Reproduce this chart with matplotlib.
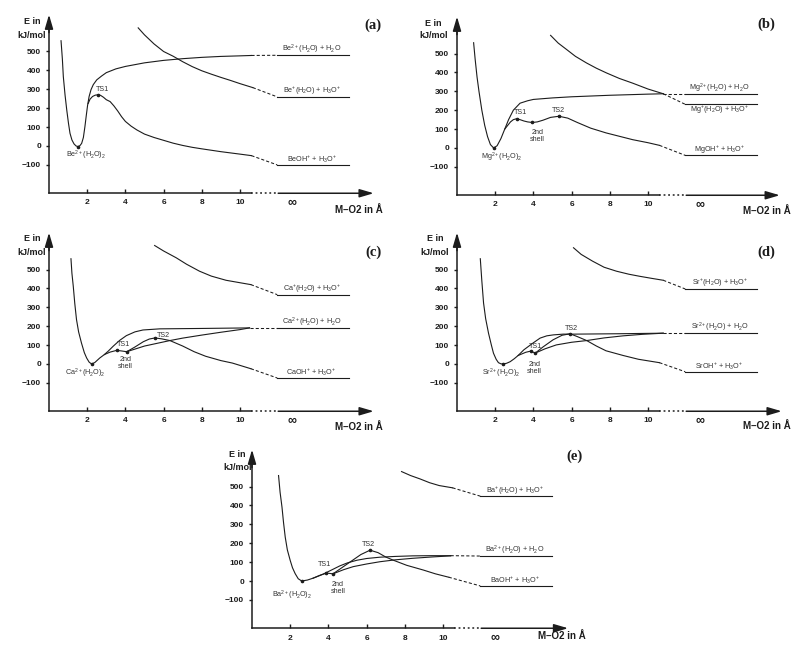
import matplotlib
matplotlib.use('Agg')  # no display
import matplotlib.pyplot as plt

plt.rcParams['font.family'] = ['Liberation Sans', 'DejaVu Sans']
plt.rcParams['mathtext.fontset'] = 'custom'
plt.rcParams['mathtext.rm'] = 'Liberation Sans'
plt.rcParams['mathtext.it'] = 'Liberation Sans:italic'
plt.rcParams['mathtext.bf'] = 'Liberation Sans:bold'

# --- values: x = M-O2 distance (A), y = E (kJ/mol) ---
x_ticks = [2, 4, 6, 8, 10]
y_ticks = [-100, 0, 100, 200, 300, 400, 500]

# (a) Be
be_bound_x = [0.63, 0.70, 0.75, 0.84, 0.93, 1.02, 1.10, 1.20, 1.31, 1.42, 1.52, 1.62, 1.71, 1.80, 1.88,
              1.95, 2.02, 2.10, 2.20, 2.32, 2.50, 2.75, 3.00, 3.50, 4.00, 5.00, 6.00, 7.00, 8.00, 9.00,
              10.00, 10.60]
be_bound_y = [557, 460, 367, 270, 190, 120, 67, 32, 11, 0, -3, 2, 14, 45, 102,
              160, 215, 262, 298, 325, 350, 370, 388, 408, 421, 440, 453, 462, 469, 474,
              477, 479]
be_pt_x = [2.05, 2.15, 2.28, 2.42, 2.56, 2.70, 2.85, 3.00, 3.20, 3.40, 3.60, 3.80, 4.00, 4.30, 4.60,
           5.00, 5.50, 6.00, 6.50, 7.00, 7.50, 8.00, 9.00, 10.00, 10.60]
be_pt_y = [225, 248, 262, 269, 271, 268, 258, 245, 235, 212, 185, 155, 130, 105, 85,
           63, 45, 30, 15, 3, -7, -15, -30, -43, -51]
be_ion_x = [4.67, 5.00, 5.50, 6.00, 6.50, 7.00, 7.50, 8.00, 8.50, 9.00, 9.50, 10.00, 10.67]
be_ion_y = [625, 588, 540, 500, 475, 446, 420, 398, 380, 363, 347, 330, 309]
be_levels = [480, 260, -100]
be_texts = ['Be$^{2+}$(H$_2$O) + H$_2$O', 'Be$^{+}$(H$_2$O) + H$_3$O$^{+}$', 'BeOH$^{+}$ + H$_3$O$^{+}$']
be_marks_x = [1.50, 2.56]
be_marks_y = [-3, 271]

# (b) Mg
mg_bound_x = [0.87, 0.95, 1.05, 1.15, 1.30, 1.45, 1.60, 1.75, 1.92, 2.10, 2.30, 2.50, 2.70, 2.95, 3.30,
              3.70, 4.00, 5.00, 6.00, 7.00, 8.00, 9.00, 10.00, 10.80]
mg_bound_y = [557, 470, 375, 300, 200, 120, 60, 18, 0, 12, 50, 100, 150, 200, 237,
              250, 257, 265, 271, 275, 279, 282, 285, 287]
mg_pt_x = [2.50, 2.80, 2.95, 3.12, 3.30, 3.50, 3.70, 3.94, 4.20, 4.50, 4.90, 5.34, 5.80, 6.30, 7.00,
           7.80, 8.50, 9.20, 10.00, 10.60]
mg_pt_y = [100, 138, 150, 155, 150, 143, 138, 135, 138, 147, 162, 168, 158, 135, 105,
           80, 62, 44, 28, 14]
mg_ion_x = [4.90, 5.30, 5.74, 6.20, 6.78, 7.30, 7.83, 8.50, 9.20, 10.00, 10.80]
mg_ion_y = [596, 555, 521, 485, 450, 422, 397, 368, 343, 312, 287]
mg_levels = [287, 231, -39]
mg_texts = ['Mg$^{2+}$(H$_2$O) + H$_2$O', 'Mg$^{+}$(H$_2$O) + H$_3$O$^{+}$', 'MgOH$^{+}$ + H$_3$O$^{+}$']
mg_marks_x = [1.92, 3.12, 3.94, 5.34]
mg_marks_y = [0, 155, 135, 168]

# (c) Ca
ca_bound_x = [1.15, 1.20, 1.27, 1.35, 1.44, 1.55, 1.70, 1.85, 1.97, 2.10, 2.23, 2.40, 2.66, 2.90, 3.10,
              3.36, 3.70, 4.05, 4.50, 4.92, 5.80, 7.90, 10.50]
ca_bound_y = [557, 480, 412, 320, 235, 170, 111, 60, 32, 10, 0, 8, 32, 50, 68,
              94, 125, 150, 170, 180, 186, 188, 191]
ca_ts1_x = [2.90, 3.20, 3.54, 3.80, 4.07]
ca_ts1_y = [50, 63, 72, 69, 65]
ca_shell_x = [4.07, 5.00, 6.33, 7.00, 8.00, 9.00, 10.00, 10.50]
ca_shell_y = [65, 95, 124, 137, 153, 168, 182, 191]
ca_pt_x = [4.07, 4.50, 4.94, 5.25, 5.55, 5.90, 6.33, 6.70, 7.00, 7.60, 8.20, 9.00, 9.60, 10.57]
ca_pt_y = [65, 90, 118, 132, 138, 133, 124, 108, 95, 65, 41, 18, 5, -25]
ca_ion_x = [5.53, 6.00, 6.66, 7.20, 7.88, 8.50, 9.27, 10.00, 10.57]
ca_ion_y = [627, 598, 562, 528, 491, 465, 443, 430, 420]
ca_levels = [191, 367, -74]
ca_texts = ['Ca$^{2+}$(H$_2$O) + H$_2$O', 'Ca$^{+}$(H$_2$O) + H$_3$O$^{+}$', 'CaOH$^{+}$ + H$_3$O$^{+}$']
ca_marks_x = [2.23, 3.54, 4.07, 5.55]
ca_marks_y = [0, 72, 65, 138]

# (d) Sr
sr_bound_x = [1.22, 1.30, 1.39, 1.50, 1.65, 1.80, 1.91, 2.05, 2.17, 2.30, 2.43, 2.60, 2.78, 3.00, 3.20,
              3.50, 3.98, 4.35, 4.70, 5.04, 5.56, 6.10, 8.35, 10.80]
sr_bound_y = [557, 440, 323, 240, 163, 100, 57, 25, 7, 1, 0, 4, 12, 28, 45,
              75, 111, 137, 149, 154, 158, 158, 160, 163]
sr_ts1_x = [3.20, 3.60, 3.85, 4.10]
sr_ts1_y = [45, 62, 68, 58]
sr_shell_x = [4.10, 4.60, 5.20, 6.00, 6.79, 7.70, 8.70, 9.70, 10.80]
sr_shell_y = [58, 80, 101, 115, 124, 138, 149, 157, 163]
sr_pt_x = [4.10, 4.50, 5.03, 5.50, 5.92, 6.30, 6.79, 7.30, 7.80, 8.70, 9.50, 10.60]
sr_pt_y = [58, 90, 128, 152, 160, 145, 124, 95, 70, 45, 25, 7]
sr_ion_x = [6.10, 6.50, 7.10, 7.70, 8.35, 9.00, 9.57, 10.20, 10.80]
sr_ion_y = [615, 580, 544, 512, 491, 475, 464, 453, 443]
sr_levels = [163, 397, -41]
sr_texts = ['Sr$^{2+}$(H$_2$O) + H$_2$O', 'Sr$^{+}$(H$_2$O) + H$_3$O$^{+}$', 'SrOH$^{+}$ + H$_3$O$^{+}$']
sr_marks_x = [2.43, 3.85, 4.10, 5.92]
sr_marks_y = [0, 68, 58, 160]

# (e) Ba
ba_bound_x = [1.39, 1.47, 1.57, 1.65, 1.74, 1.85, 2.00, 2.12, 2.26, 2.42, 2.60, 2.90, 3.20, 3.70, 4.20,
              4.60, 5.00, 5.50, 6.00, 6.70, 7.50, 8.40, 9.40, 10.40]
ba_bound_y = [558, 470, 391, 310, 232, 165, 109, 70, 39, 12, 0, 5, 15, 35, 60,
              80, 96, 110, 119, 126, 130, 133, 134, 134]
ba_ts1_x = [3.20, 3.60, 3.90, 4.24]
ba_ts1_y = [15, 32, 42, 38]
ba_shell_x = [4.24, 4.80, 5.30, 6.00, 6.70, 7.50, 8.40, 9.40, 10.40]
ba_shell_y = [38, 60, 76, 90, 102, 112, 120, 127, 133]
ba_pt_x = [4.24, 4.70, 5.20, 5.70, 6.18, 6.60, 7.00, 7.40, 8.10, 8.97, 9.60, 10.30]
ba_pt_y = [38, 70, 105, 140, 163, 150, 127, 110, 83, 58, 38, 20]
ba_ion_x = [7.83, 8.30, 8.80, 9.30, 9.80, 10.50]
ba_ion_y = [579, 558, 540, 520, 505, 493]
ba_levels = [132, 449, -26]
ba_texts = ['Ba$^{2+}$(H$_2$O) + H$_2$O', 'Ba$^{+}$(H$_2$O) + H$_3$O$^{+}$', 'BaOH$^{+}$ + H$_3$O$^{+}$']
ba_marks_x = [2.60, 3.90, 4.24, 6.18]
ba_marks_y = [0, 42, 38, 163]

# --- layout (pixels of an 800x647 canvas) ---
W, H = 800, 647
PX_X = 19.1      # px per Angstrom
PX_Y = 18.9      # px per 100 kJ/mol
XLIM = (-2.5, 18.3)
YLIM = (-380, 740)
LEVEL_X = (11.95, 15.7)
INK = '#1c1c1c'

fig = plt.figure(figsize=(W / 100, H / 100), dpi=100)


def add_panel(x0, y0):
    left = (x0 + XLIM[0] * PX_X) / W
    width = (XLIM[1] - XLIM[0]) * PX_X / W
    height = (YLIM[1] - YLIM[0]) / 100 * PX_Y / H
    top = (y0 - YLIM[1] / 100 * PX_Y) / H
    ax = fig.add_axes([left, 1 - top - height, width, height])
    ax.set_xlim(XLIM)
    ax.set_ylim(YLIM)
    ax.patch.set_visible(False)
    return ax


def draw_axes(ax, tip_x, letter, letter_xy, ylab_x, ylab_y, xlab_y):
    for side in ('top', 'right'):
        ax.spines[side].set_visible(False)
    ax.spines['left'].set_position(('data', 0))
    ax.spines['left'].set_bounds(-250, 640)
    ax.spines['bottom'].set_position(('data', -250))
    ax.spines['bottom'].set_bounds(0, 10.55)
    for side in ('left', 'bottom'):
        ax.spines[side].set_linewidth(1.1)
        ax.spines[side].set_color(INK)
    ax.set_xticks(x_ticks)
    ax.set_yticks(y_ticks)
    ax.tick_params(axis='x', direction='in', length=3, width=1, pad=4.5, labelsize=6, colors=INK)
    ax.tick_params(axis='y', direction='out', length=2.2, width=1, pad=3.5, labelsize=6, colors=INK)
    for lab in ax.get_xticklabels() + ax.get_yticklabels():
        lab.set_fontweight('bold')

    arrow = dict(arrowstyle='-|>,head_length=0.85,head_width=0.25', color=INK, lw=1.1,
                 shrinkA=0, shrinkB=0)
    ax.annotate('', xy=(0, 695), xytext=(0, 600), arrowprops=arrow)
    ax.annotate('', xy=(tip_x, -250), xytext=(12.0, -250), arrowprops=arrow)
    ax.plot([10.55, 12.0], [-250, -250], color=INK, lw=1.1, ls=(0, (1.2, 1.8)))

    ax.text(12.7, -300, '\u221e', ha='center', va='center', fontsize=9, fontweight='bold', color=INK)
    ax.text(17.45, xlab_y, 'M\u2013O2 in \u00c5', ha='right', va='center', fontsize=7,
            fontweight='bold', color=INK)
    ax.text(ylab_x, ylab_y[0], 'E in', ha='center', va='center', fontsize=6.5,
            fontweight='bold', color=INK)
    ax.text(ylab_x, ylab_y[1], 'kJ/mol', ha='center', va='center', fontsize=6.5,
            fontweight='bold', color=INK)
    ax.text(letter_xy[0], letter_xy[1], letter, ha='center', va='center', fontsize=10.5,
            fontweight='bold', family='Liberation Serif', color=INK)


def draw_curves(ax, curves, ends, levels, texts, below, marks_x, marks_y):
    for xs, ys in curves:
        ax.plot(xs, ys, color=INK, lw=0.8, solid_joinstyle='round')
    for (xs, ys), lev, txt, under in zip(ends, levels, texts, below):
        ax.plot([xs[-1], LEVEL_X[0]], [ys[-1], lev], color=INK, lw=0.75, ls=(0, (3, 2)))
        ax.plot(LEVEL_X, [lev, lev], color=INK, lw=0.8)
        dy = -28 if under else 30
        ax.text(13.75, lev + dy, txt, ha='center', va='center', fontsize=5.2, color='#333333')
    ax.plot(marks_x, marks_y, 'o', ms=1.6, color=INK)


def note(ax, x, y, s):
    ax.text(x, y, s, ha='center', va='center', fontsize=5.2, color='#333333', linespacing=1.0)


# (a)
ax = add_panel(49, 146)
draw_axes(ax, 17.0, '(a)', (16.98, 640), -0.9, (658, 587), -337)
draw_curves(ax, [(be_bound_x, be_bound_y), (be_pt_x, be_pt_y), (be_ion_x, be_ion_y)],
            [(be_bound_x, be_bound_y), (be_ion_x, be_ion_y), (be_pt_x, be_pt_y)],
            be_levels, be_texts, [False, False, False], be_marks_x, be_marks_y)
note(ax, 1.95, -52, 'Be$^{2+}$(H$_2$O)$_2$')
note(ax, 2.8, 300, 'TS1')

# (b)
ax = add_panel(457, 148)
draw_axes(ax, 16.9, '(b)', (16.2, 654), -1.25, (658, 596), -335)
draw_curves(ax, [(mg_bound_x, mg_bound_y), (mg_pt_x, mg_pt_y), (mg_ion_x, mg_ion_y)],
            [(mg_bound_x, mg_bound_y), (mg_ion_x, mg_ion_y), (mg_pt_x, mg_pt_y)],
            mg_levels, mg_texts, [False, True, False], mg_marks_x, mg_marks_y)
note(ax, 2.35, -50, 'Mg$^{2+}$(H$_2$O)$_2$')
note(ax, 3.3, 190, 'TS1')
note(ax, 5.3, 201, 'TS2')
note(ax, 4.2, 65, '2nd\nshell')

# (c)
ax = add_panel(49, 364)
draw_axes(ax, 17.0, '(c)', (16.98, 589), -0.9, (663, 592), -333)
draw_curves(ax, [(ca_bound_x, ca_bound_y), (ca_ts1_x, ca_ts1_y), (ca_shell_x, ca_shell_y),
                 (ca_pt_x, ca_pt_y), (ca_ion_x, ca_ion_y)],
            [(ca_bound_x, ca_bound_y), (ca_ion_x, ca_ion_y), (ca_pt_x, ca_pt_y)],
            ca_levels, ca_texts, [False, False, False], ca_marks_x, ca_marks_y)
note(ax, 1.88, -52, 'Ca$^{2+}$(H$_2$O)$_2$')
note(ax, 3.9, 102, 'TS1')
note(ax, 5.97, 152, 'TS2')
note(ax, 4.0, 3, '2nd\nshell')

# (d)
ax = add_panel(457, 364)
draw_axes(ax, 17.0, '(d)', (16.2, 589), -1.15, (663, 592), -330)
draw_curves(ax, [(sr_bound_x, sr_bound_y), (sr_ts1_x, sr_ts1_y), (sr_shell_x, sr_shell_y),
                 (sr_pt_x, sr_pt_y), (sr_ion_x, sr_ion_y)],
            [(sr_bound_x, sr_bound_y), (sr_ion_x, sr_ion_y), (sr_pt_x, sr_pt_y)],
            sr_levels, sr_texts, [False, False, False], sr_marks_x, sr_marks_y)
note(ax, 2.3, -52, 'Sr$^{2+}$(H$_2$O)$_2$')
note(ax, 4.1, 92, 'TS1')
note(ax, 6.0, 190, 'TS2')
note(ax, 4.05, -20, '2nd\nshell')

# (e)
ax = add_panel(252, 581)
draw_axes(ax, 16.55, '(e)', (16.9, 658), -0.75, (667, 602), -290)
draw_curves(ax, [(ba_bound_x, ba_bound_y), (ba_ts1_x, ba_ts1_y), (ba_shell_x, ba_shell_y),
                 (ba_pt_x, ba_pt_y), (ba_ion_x, ba_ion_y)],
            [(ba_bound_x, ba_bound_y), (ba_ion_x, ba_ion_y), (ba_pt_x, ba_pt_y)],
            ba_levels, ba_texts, [False, False, False], ba_marks_x, ba_marks_y)
note(ax, 2.1, -76, 'Ba$^{2+}$(H$_2$O)$_2$')
note(ax, 3.8, 88, 'TS1')
note(ax, 6.1, 195, 'TS2')
note(ax, 4.5, -37, '2nd\nshell')

fig.savefig('out.png', dpi=100)
plt.close(fig)
